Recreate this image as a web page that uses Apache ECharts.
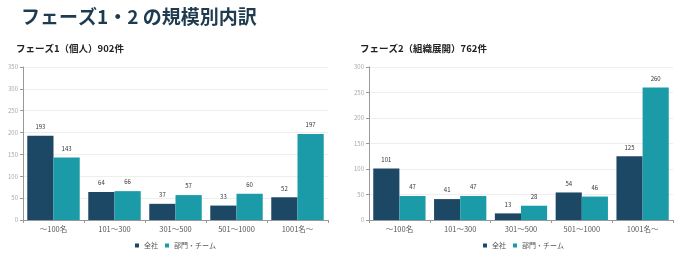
<!DOCTYPE html>
<html lang="ja">
<head>
<meta charset="UTF-8">
<title>フェーズ1・2 の規模別内訳</title>
<script src="https://cdn.jsdelivr.net/npm/echarts@6/dist/echarts.min.js"></script>
<style>
  html, body { margin: 0; padding: 0; background: #fff; }
  #chart { width: 681px; height: 254px; }
</style>
</head>
<body>
<div id="chart"></div>
<script>
// カテゴリ（規模）
const categories = ['〜100名', '101〜300', '301〜500', '501〜1000', '1001名〜'];
const seriesNames = ['全社', '部門・チーム'];

// フェーズ1（個人）902件
const phase1Company = [193, 64, 37, 33, 52];
const phase1Dept = [143, 66, 57, 60, 197];

// フェーズ2（組織展開）762件
const phase2Company = [101, 41, 13, 54, 125];
const phase2Dept = [47, 47, 28, 46, 260];

const NAVY = '#1c4866';
const TEAL = '#1a9ba7';
const font = '"Noto Sans CJK JP", "Noto Sans", sans-serif';

const chart = echarts.init(document.getElementById('chart'));

function yAxis(idx, max) {
  return {
    gridIndex: idx, type: 'value', min: 0, max: max, interval: 50,
    axisLine: { show: true, lineStyle: { color: '#999' } },
    axisTick: { show: true, length: 3, lineStyle: { color: '#999' } },
    axisLabel: { fontSize: 6, color: '#aaa', margin: 5, fontFamily: font },
    splitLine: { lineStyle: { color: '#eeeeee' } }
  };
}
function xAxis(idx) {
  return {
    gridIndex: idx, type: 'category', data: categories,
    axisLine: { lineStyle: { color: '#999' } },
    axisTick: { show: true, length: 3, lineStyle: { color: '#999' } },
    axisLabel: { fontSize: 7.5, color: '#555', margin: 5, fontFamily: font }
  };
}
function bar(name, data, idx, color) {
  return {
    name: name, type: 'bar', data: data, xAxisIndex: idx, yAxisIndex: idx,
    barGap: 0, barCategoryGap: '14%',
    itemStyle: { color: color },
    label: { show: true, position: 'top', fontSize: 6, color: '#333', distance: 6, fontFamily: font }
  };
}
function legend(left) {
  return {
    data: seriesNames, left: left, top: 237, itemWidth: 4, itemHeight: 4, itemGap: 7,
    icon: 'rect', textStyle: { fontSize: 7, color: '#555', padding: [0, 0, 0, 0], fontFamily: font }
  };
}

chart.setOption({
  animation: false,
  textStyle: { fontFamily: font },
  title: [
    { text: 'フェーズ1・2 の規模別内訳', left: 16, top: 2,
      textStyle: { fontSize: 19, fontWeight: 'bold', color: '#1f3b4f', fontFamily: font } },
    { text: 'フェーズ1（個人）902件', left: 11, top: 39,
      textStyle: { fontSize: 9.5, fontWeight: 'bold', color: '#222', fontFamily: font } },
    { text: 'フェーズ2（組織展開）762件', left: 355, top: 39,
      textStyle: { fontSize: 9.5, fontWeight: 'bold', color: '#222', fontFamily: font } }
  ],
  legend: [legend(130), legend(478)],
  grid: [
    { left: 23, right: 353, top: 67, bottom: 34 },
    { left: 369, right: 8, top: 67, bottom: 34 }
  ],
  xAxis: [xAxis(0), xAxis(1)],
  yAxis: [yAxis(0, 350), yAxis(1, 300)],
  series: [
    bar(seriesNames[0], phase1Company, 0, NAVY),
    bar(seriesNames[1], phase1Dept, 0, TEAL),
    bar(seriesNames[0], phase2Company, 1, NAVY),
    bar(seriesNames[1], phase2Dept, 1, TEAL)
  ]
});
</script>
</body>
</html>
